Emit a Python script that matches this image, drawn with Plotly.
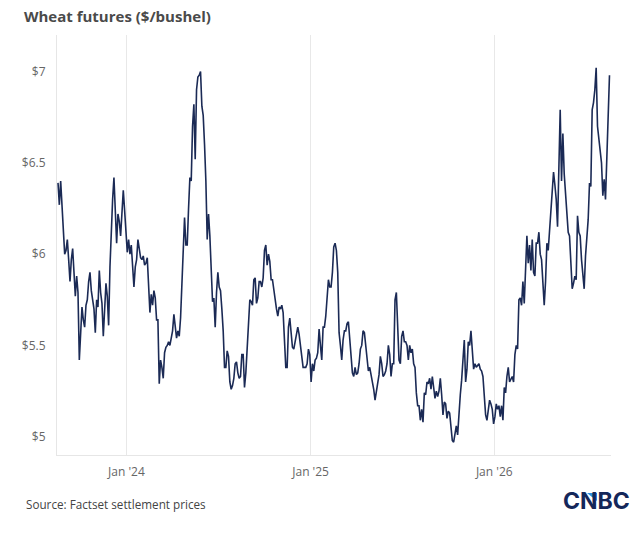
import pandas as pd
import plotly.graph_objects as go

# settlement prices at an even spacing (Aug 2023 -> Aug 2026)
start_date = "2023-08-18"
end_date = "2026-08-18"

prices_a = [6.39, 6.27, 6.40, 6.24, 6.12, 6.00, 6.02, 6.08, 5.97, 5.85, 5.97, 6.03, 5.90, 5.77, 5.88,
            5.79, 5.42, 5.60, 5.71, 5.64, 5.60, 5.72, 5.75, 5.85, 5.90, 5.80, 5.74, 5.70, 5.57, 5.75,
            5.71, 5.91, 5.79, 5.73, 5.55, 5.71, 5.84, 5.77, 5.61, 5.93, 6.15, 6.30, 6.42, 6.24, 6.06,
            6.22, 6.18, 6.10, 6.21, 6.35, 6.24, 6.10, 6.01, 6.08, 6.00, 6.05, 5.92, 5.82, 5.93, 5.97,
            6.08, 6.02, 5.98, 5.97, 5.99, 5.94, 5.95, 5.98, 5.80, 5.68, 5.78, 5.72, 5.80, 5.76, 5.64,
            5.64, 5.29, 5.42, 5.38, 5.32, 5.46, 5.49, 5.50, 5.52, 5.50, 5.55, 5.58, 5.67, 5.60, 5.54,
            5.58, 5.55, 5.65, 5.85, 6.10, 6.20, 6.05, 6.05, 6.25, 6.42, 6.40, 6.70, 6.82]
prices_b = [6.52, 6.90, 6.97, 6.98, 7.00, 6.81, 6.76, 6.60, 6.40, 6.08, 6.22, 6.10, 5.87, 5.74, 5.76,
            5.60, 5.79, 5.90, 5.82, 5.80, 5.70, 5.58, 5.38, 5.38, 5.47, 5.44, 5.30, 5.26, 5.28, 5.32,
            5.40, 5.41, 5.35, 5.32, 5.33, 5.45, 5.45, 5.27, 5.35, 5.50, 5.60, 5.75, 5.74, 5.72, 5.86,
            5.87, 5.73, 5.76, 5.85, 5.85, 5.82, 5.87, 6.02, 6.05, 5.94, 6.00, 5.96, 5.86, 5.86, 5.80,
            5.76, 5.70, 5.66, 5.71, 5.70, 5.72, 5.68, 5.55, 5.38, 5.38, 5.60, 5.65, 5.55, 5.49, 5.48,
            5.52, 5.58, 5.60, 5.56, 5.50, 5.46, 5.38, 5.38, 5.38, 5.40, 5.48, 5.45, 5.30, 5.40, 5.36,
            5.42, 5.43, 5.46, 5.59, 5.50, 5.42, 5.60, 5.60, 5.66, 5.74, 5.86, 5.82, 5.82, 5.90, 6.04]
prices_c = [6.06, 6.02, 5.90, 5.57, 5.50, 5.42, 5.53, 5.58, 5.58, 5.62, 5.63, 5.55, 5.46, 5.35, 5.33,
            5.38, 5.34, 5.35, 5.40, 5.48, 5.50, 5.58, 5.57, 5.50, 5.44, 5.36, 5.38, 5.34, 5.31, 5.26,
            5.20, 5.25, 5.30, 5.34, 5.44, 5.40, 5.33, 5.34, 5.36, 5.40, 5.50, 5.45, 5.33, 5.40, 5.40,
            5.75, 5.79, 5.60, 5.42, 5.40, 5.55, 5.58, 5.52, 5.52, 5.50, 5.42, 5.50, 5.46, 5.48, 5.40,
            5.38, 5.24, 5.17, 5.17, 5.09, 5.15, 5.08, 5.24, 5.23, 5.30, 5.29, 5.32, 5.26, 5.33, 5.25,
            5.21, 5.25, 5.22, 5.25, 5.32, 5.23, 5.12, 5.19, 5.18, 5.10, 5.14, 5.13, 5.07, 4.98, 4.97,
            5.03, 5.06, 5.01, 5.14, 5.23, 5.31, 5.40, 5.53, 5.30, 5.37, 5.52, 5.50, 5.58, 5.44, 5.37]
prices_d = [5.40, 5.38, 5.39, 5.40, 5.37, 5.36, 5.33, 5.22, 5.12, 5.09, 5.15, 5.20, 5.18, 5.15, 5.07,
            5.11, 5.18, 5.15, 5.17, 5.11, 5.17, 5.09, 5.27, 5.24, 5.33, 5.38, 5.30, 5.32, 5.33, 5.30,
            5.45, 5.50, 5.48, 5.75, 5.76, 5.72, 5.85, 5.73, 5.95, 6.10, 5.95, 6.05, 5.91, 6.08, 5.90,
            5.88, 6.06, 6.06, 6.12, 6.00, 5.97, 5.84, 5.72, 5.85, 6.06, 6.02, 6.13, 6.21, 6.35, 6.45,
            6.38, 6.30, 6.15, 6.45, 6.79, 6.40, 6.66, 6.44, 6.35, 6.24, 6.12, 6.10, 5.95, 5.81, 5.84,
            5.88, 5.86, 6.21, 6.12, 6.10, 5.97, 5.90, 5.81, 5.99, 6.08, 6.19, 6.39, 6.37, 6.79, 6.83,
            6.90, 7.02, 6.70, 6.62, 6.55, 6.50, 6.32, 6.41, 6.30, 6.54, 6.83, 6.98]

y_ticks = [5, 5.5, 6, 6.5, 7]
y_tick_labels = ["$5", "$5.5", "$6", "$6.5", "$7"]
x_ticks = ["2024-01-01", "2025-01-01", "2026-01-01"]
x_tick_labels = ["Jan '24", "Jan '25", "Jan '26"]

prices = prices_a + prices_b + prices_c + prices_d
dates = pd.date_range(start_date, end_date, periods=len(prices))

# page body adds 8px around the plot div, so size/margins are trimmed to match
W, H = 635, 527

fig = go.Figure()
fig.add_trace(go.Scatter(x=dates, y=prices, mode="lines",
                         line=dict(color="#1b2a55", width=1.6), hoverinfo="x+y"))

fig.update_layout(
    width=W, height=H,
    margin=dict(l=49, r=32, t=27, b=80),
    paper_bgcolor="white", plot_bgcolor="white",
    showlegend=False,
    font=dict(family="Open Sans", color="#666666", size=12),
    title=dict(text="<b>Wheat futures ($/bushel)</b>", x=16 / W, xref="container", xanchor="left",
               y=1, yref="container", yanchor="top", pad=dict(t=3),
               font=dict(family="Open Sans", size=15, color="#4a4a4a")),
)
fig.update_xaxes(range=["2023-08-16", "2026-08-21"], tickvals=x_ticks, ticktext=x_tick_labels,
                 showgrid=True, gridcolor="#e8e8e8", gridwidth=1,
                 showline=True, linecolor="#e6e6e6", linewidth=1,
                 ticks="", ticklabelstandoff=6, zeroline=False)
fig.update_yaxes(range=[4.9, 7.2], tickvals=y_ticks, ticktext=y_tick_labels,
                 showgrid=False, showline=True, linecolor="#e6e6e6", linewidth=1,
                 ticks="", ticklabelstandoff=8, zeroline=False)

# positions below are screen pixels converted to paper coords (plot spans x 57-611, y 35-455)
fig.add_annotation(text="Source: Factset settlement prices", xref="paper", yref="paper",
                   x=(24 - 57) / 554, y=(455 - 504) / 420, xanchor="left", yanchor="middle",
                   showarrow=False, font=dict(family="Open Sans", size=11.7, color="#444444"))
fig.add_annotation(text="<b>CNBC</b>", xref="paper", yref="paper",
                   x=(632 - 57) / 554, y=(455 - 501) / 420, xanchor="right", yanchor="middle",
                   showarrow=False, font=dict(family="Inter", size=23, color="#14275a", weight=900))
fig.add_shape(type="path", xref="paper", yref="paper",
              path="M %f,%f L %f,%f L %f,%f Z" % ((587 - 57) / 554, (455 - 493) / 420,
                                                  (597 - 57) / 554, (455 - 493) / 420,
                                                  (597 - 57) / 554, (455 - 501) / 420),
              fillcolor="#2f8fe0", line=dict(width=0))

fig.write_html("out.html")
